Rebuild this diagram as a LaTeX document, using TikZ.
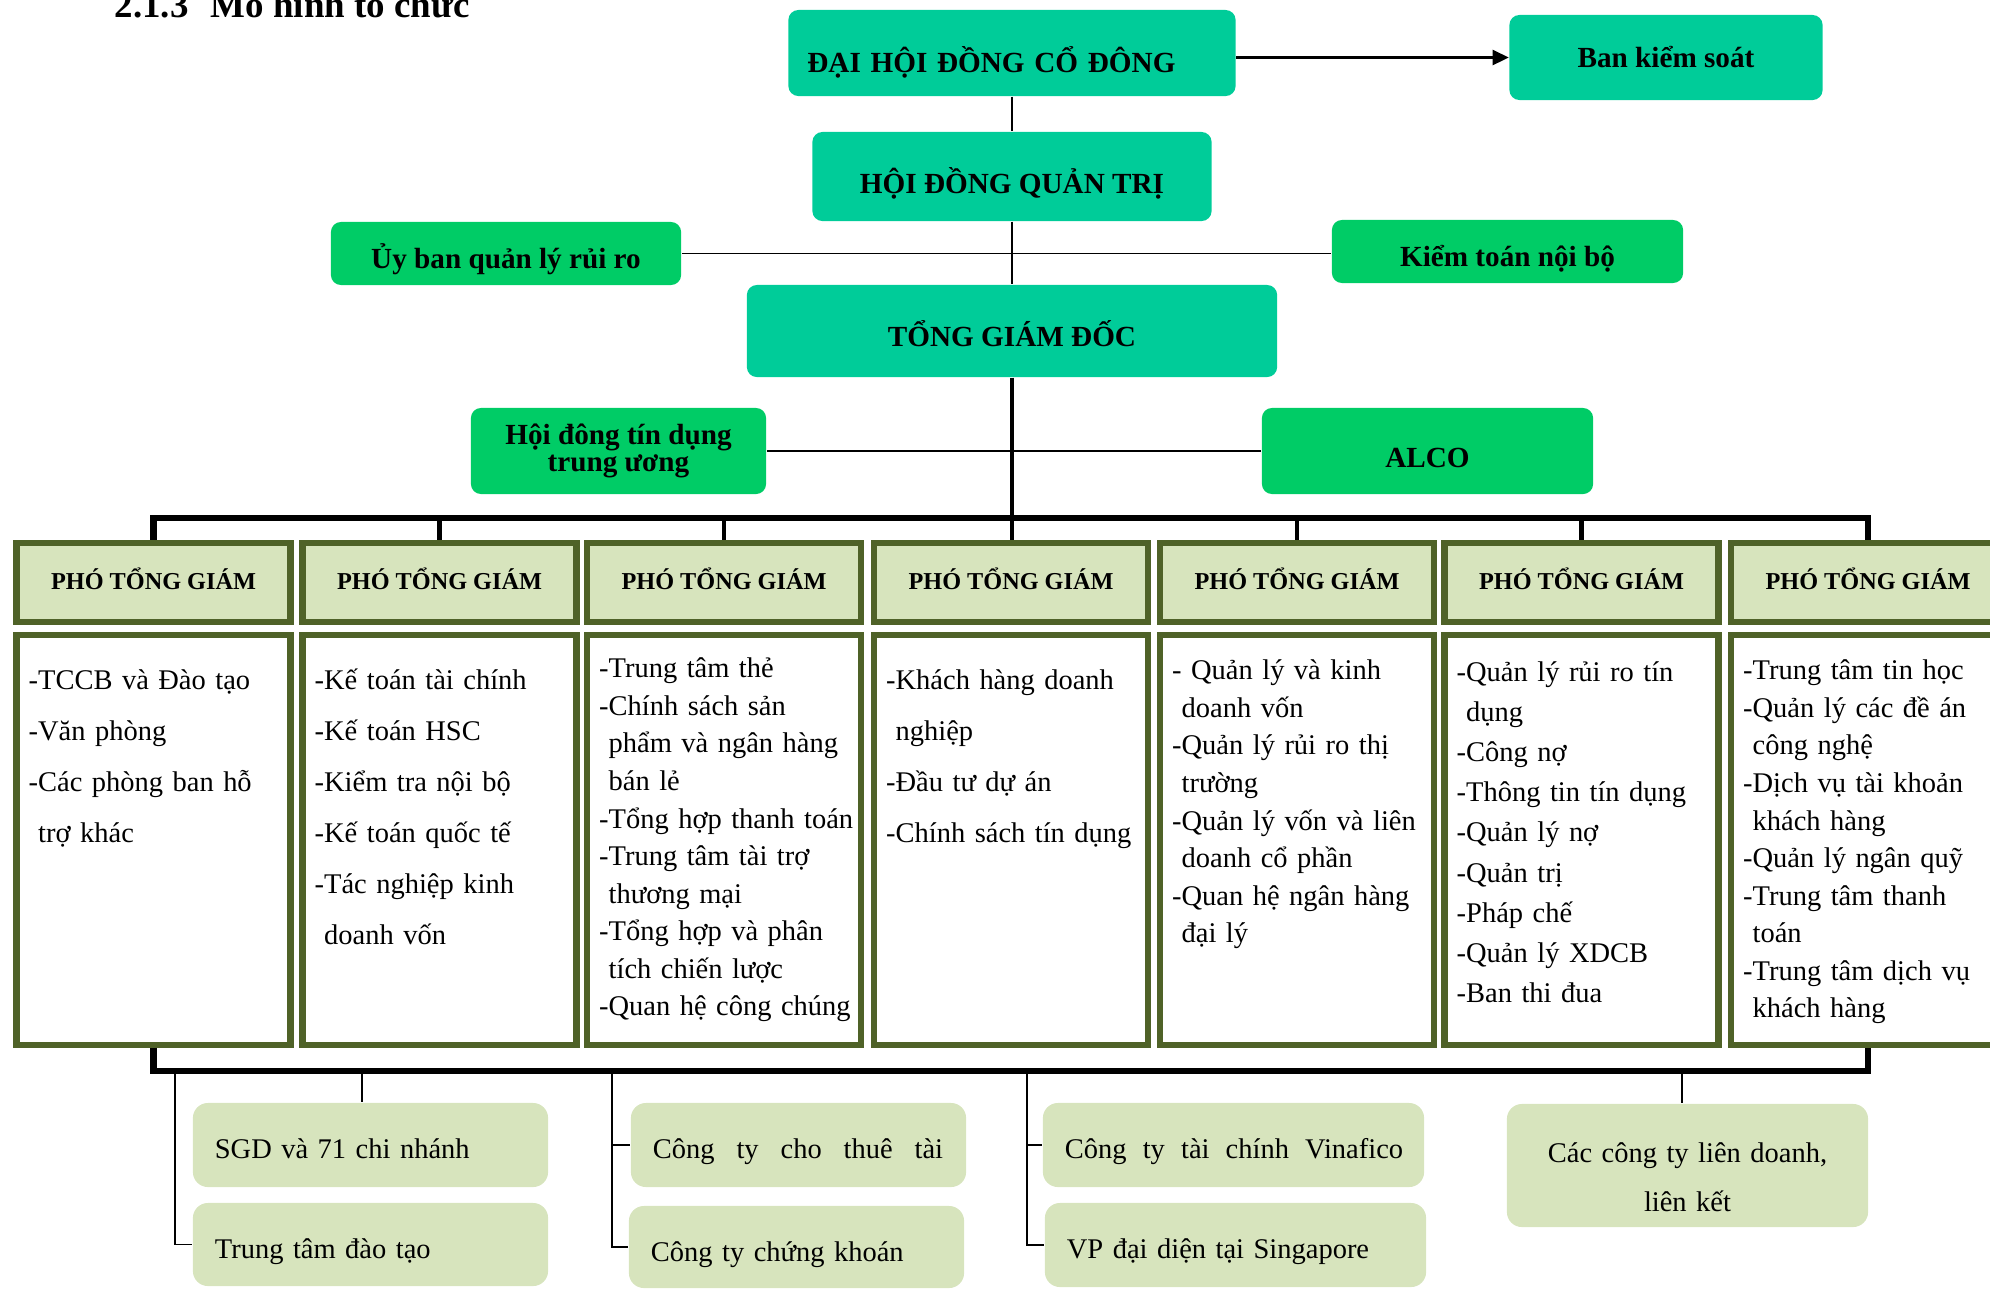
\documentclass[tikz,border=0pt]{standalone}
\usepackage{fontspec}
\setmainfont{Liberation Serif}
\usetikzlibrary{arrows.meta}

\definecolor{boardteal}{RGB}{0,204,153}
\definecolor{boardgreen}{RGB}{0,204,102}
\definecolor{deputyfill}{RGB}{215,228,189}
\definecolor{deputyline}{RGB}{79,98,40}

\begin{document}
\begin{tikzpicture}[x=0.01cm, y=-0.01cm,
    topbox/.style={fill=boardteal, rounded corners=0.1cm, inner sep=0pt, align=center, font=\bfseries\fontsize{8.3}{7.7}\selectfont},
    sidebox/.style={topbox, fill=boardgreen},
    phobox/.style={draw=deputyline, line width=0.065cm, fill=deputyfill, minimum width=2.735cm, text height=0.4575cm, text depth=0.3275cm, inner sep=0pt, font=\bfseries\fontsize{6.9}{8}\selectfont},
    listbox/.style={draw=deputyline, line width=0.065cm, fill=white, text width=2.495cm, inner xsep=0.12cm, inner ysep=0pt, align=left},
    widelist/.style={font=\fontsize{8.1}{14.45}\selectfont},
    midlist/.style={font=\fontsize{8.1}{11.38}\selectfont},
    tightlist/.style={font=\fontsize{8.1}{10.67}\selectfont},
    unitbox/.style={fill=deputyfill, rounded corners=0.15cm, inner xsep=0.22cm, inner ysep=0pt, text height=0.55cm, align=left, font=\fontsize{8.1}{14.2}\selectfont},
    link/.style={line width=0.018cm},
    trunk/.style={line width=0.045cm},
    bus/.style={line width=0.065cm},
  ]
    \useasboundingbox (0,0) rectangle (1990,1290);

    \node[anchor=base west, inner sep=0pt, font=\bfseries\fontsize{10.5}{12}\selectfont] (title) at (114,17) {2.1.3\hspace{0.6em}Mô hình tổ chức};

    % top of the chart
    \node[topbox, align=left, text width=4.09cm, inner xsep=0.19cm, text height=0.62cm, text depth=0.24cm] (dhdcd) at (1012,53) {ĐẠI HỘI ĐỒNG CỔ ĐÔNG};
    \node[topbox, minimum width=3.13cm, minimum height=0.85cm] (bks) at (1666,57.5) {Ban kiểm soát};
    \node[topbox, minimum width=3.99cm, text height=0.61cm, text depth=0.28cm] (hdqt) at (1012,176.5) {HỘI ĐỒNG QUẢN TRỊ};
    \node[sidebox, minimum width=3.50cm, text height=0.465cm, text depth=0.165cm] (ubrr) at (506,253.5) {Ủy ban quản lý rủi ro};
    \node[sidebox, minimum width=3.51cm, text height=0.465cm, text depth=0.165cm] (ktnb) at (1507.5,251.5) {Kiểm toán nội bộ};
    \node[topbox, minimum width=5.30cm, text height=0.61cm, text depth=0.31cm] (tgd) at (1012,331) {TỔNG GIÁM ĐỐC};
    \node[sidebox, minimum width=2.95cm, minimum height=0.86cm] (hdtd) at (618.5,451) {Hội đông tín dụng\\trung ương};
    \node[sidebox, minimum width=3.31cm, text height=0.59cm, text depth=0.27cm] (alco) at (1427.5,451) {ALCO};

    \draw[line width=0.025cm, -{Triangle[length=0.16cm, width=0.15cm]}] (dhdcd.east |- bks.west) -- (bks.west);
    \draw[link] (dhdcd.south) -- (hdqt.north);
    \draw[link] (hdqt.south) -- (tgd.north);
    \draw[link] (ubrr.east) -- (ubrr.east -| ktnb.west);
    \draw[link] (hdtd.east) -- (alco.west);

    % deputies
    \node[phobox] (pho1) at (153.5,582.5) {PHÓ TỔNG GIÁM};
    \node[phobox] (pho2) at (439.5,582.5) {PHÓ TỔNG GIÁM};
    \node[phobox] (pho3) at (724,582.5) {PHÓ TỔNG GIÁM};
    \node[phobox] (pho4) at (1011,582.5) {PHÓ TỔNG GIÁM};
    \node[phobox] (pho5) at (1297,582.5) {PHÓ TỔNG GIÁM};
    \node[phobox] (pho6) at (1581.5,582.5) {PHÓ TỔNG GIÁM};
    \node[phobox] (pho7) at (1868,582.5) {PHÓ TỔNG GIÁM};

    \coordinate (topbus) at (1012,518);
    \draw[trunk] (tgd.south) -- (tgd.south |- pho4.north);
    \draw[bus] (pho1.north) |- (topbus) -| (pho7.north);
    \draw[trunk] (pho2.north) -- (pho2.north |- topbus);
    \draw[trunk] (pho3.north) -- (pho3.north |- topbus);
    \draw[trunk] (pho5.north) -- (pho5.north |- topbus);
    \draw[trunk] (pho6.north) -- (pho6.north |- topbus);

    \node[listbox, widelist, text height=0.5475cm, text depth=3.5475cm] (ban1) at (153.5,840) {-TCCB và Đào tạo\\-Văn phòng\\-Các phòng ban hỗ\\\hphantom{-}trợ khác};
    \node[listbox, widelist, text height=0.5475cm, text depth=3.5475cm] (ban2) at (439.5,840) {-Kế toán tài chính\\-Kế toán HSC\\-Kiểm tra nội bộ\\-Kế toán quốc tế\\-Tác nghiệp kinh\\\hphantom{-}doanh vốn};
    \node[listbox, tightlist, text height=0.4275cm, text depth=3.6675cm] (ban3) at (724,840) {-Trung tâm thẻ\\-Chính sách sản\\\hphantom{-}phẩm và ngân hàng\\\hphantom{-}bán lẻ\\\mbox{-Tổng hợp thanh toán}\\-Trung tâm tài trợ\\\hphantom{-}thương mại\\-Tổng hợp và phân\\\hphantom{-}tích chiến lược\\\mbox{-Quan hệ công chúng}};
    \node[listbox, widelist, text height=0.5475cm, text depth=3.5475cm] (ban4) at (1011,840) {-Khách hàng doanh\\\hphantom{-}nghiệp\\-Đầu tư dự án\\\mbox{-Chính sách tín dụng}};
    \node[listbox, tightlist, text height=0.4475cm, text depth=3.6475cm] (ban5) at (1297,840) {- Quản lý và kinh\\\hphantom{-}doanh vốn\\-Quản lý rủi ro thị\\\hphantom{-}trường\\\mbox{-Quản lý vốn và liên}\\\hphantom{-}doanh cổ phần\\-Quan hệ ngân hàng\\\hphantom{-}đại lý};
    \node[listbox, midlist, text height=0.4675cm, text depth=3.6275cm] (ban6) at (1581.5,840) {-Quản lý rủi ro tín\\\hphantom{-}dụng\\-Công nợ\\-Thông tin tín dụng\\-Quản lý nợ\\-Quản trị\\-Pháp chế\\-Quản lý XDCB\\-Ban thi đua};
    \node[listbox, tightlist, text height=0.4475cm, text depth=3.6475cm] (ban7) at (1868,840) {-Trung tâm tin học\\-Quản lý các đề án\\\hphantom{-}công nghệ\\-Dịch vụ tài khoản\\\hphantom{-}khách hàng\\-Quản lý ngân quỹ\\-Trung tâm thanh\\\hphantom{-}toán\\-Trung tâm dịch vụ\\\hphantom{-}khách hàng};

    % units below
    \node[unitbox, text width=3.11cm, text depth=0.29cm] (sgd) at (370.5,1145) {SGD và 71 chi nhánh};
    \node[unitbox, text width=3.11cm, text depth=0.28cm] (ttdt) at (370.5,1244.5) {Trung tâm đào tạo};
    \node[unitbox, text width=2.91cm, text depth=0.29cm] (ctct) at (798.5,1145) {\hbox to 2.9cm{Công\hfill ty\hfill cho\hfill thuê\hfill tài}};
    \node[unitbox, text width=2.91cm, text depth=0.27cm] (ctck) at (796.5,1247) {Công ty chứng khoán};
    \node[unitbox, text width=3.37cm, text depth=0.29cm] (vina) at (1233.5,1145) {\hbox to 3.38cm{Công\hfill ty\hfill tài\hfill chính\hfill Vinafico}};
    \node[unitbox, text width=3.37cm, text depth=0.29cm] (vpdd) at (1235.5,1245) {VP đại diện tại Singapore};
    \node[unitbox, align=center, text width=3.17cm, text height=0.58cm, text depth=0.65cm] (cty) at (1687.5,1165.5) {Các công ty liên doanh,\\liên kết};

    \coordinate (lowbus) at (1012,1071);
    \draw[bus] (ban1.south) |- (lowbus) -| (ban7.south);

    \coordinate (t1) at (175,1071);
    \coordinate (t2) at (362,1071);
    \coordinate (t3) at (612,1071);
    \coordinate (t4) at (1027,1071);
    \coordinate (t5) at (1682,1071);
    \draw[link] (t1) |- (ttdt.west);
    \draw[link] (t2) -- (t2 |- sgd.north);
    \draw[link] (t3) |- (ctck.west);
    \draw[link] (t3 |- ctct.west) -- (ctct.west);
    \draw[link] (t4) |- (vpdd.west);
    \draw[link] (t4 |- vina.west) -- (vina.west);
    \draw[link] (t5) -- (t5 |- cty.north);
\end{tikzpicture}
\end{document}
